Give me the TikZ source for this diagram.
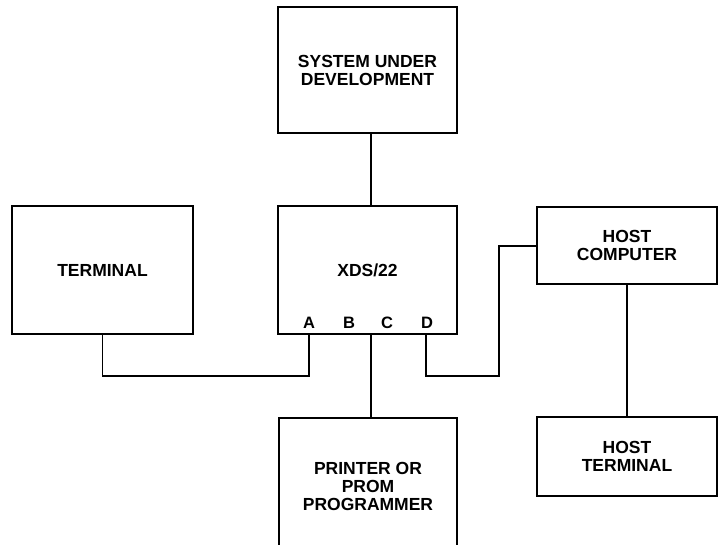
\documentclass[tikz,border=0pt]{standalone}
\usepackage{fontspec}
\setmainfont{Liberation Sans}
\begin{document}
\begin{tikzpicture}[x=1pt,y=-1pt,
  box/.style={draw,line width=2.4pt,inner sep=0pt,align=center,
    font=\fontsize{17.5}{18}\selectfont\bfseries},
  port/.style={inner sep=0pt,anchor=base,font=\fontsize{16.5}{16.5}\selectfont\bfseries},
  wire/.style={line width=1.1pt}]
\useasboundingbox (0,0) rectangle (718,544);
\node[box,minimum width=179pt,minimum height=126pt] (sys) at (367.5,70) {SYSTEM UNDER\\DEVELOPMENT};
\node[box,minimum width=181pt,minimum height=128pt] (term) at (102.5,270) {TERMINAL};
\node[box,minimum width=179pt,minimum height=128pt] (xds) at (367.5,270) {XDS/22};
\node[box,minimum width=180pt,minimum height=77pt] (host) at (627,245.5) {HOST\\COMPUTER};
\node[box,minimum width=180pt,minimum height=79pt] (hterm) at (627,456.5) {HOST\\TERMINAL};
\node[box,minimum width=178pt,minimum height=136pt] (prn) at (368,486) {PRINTER OR\\PROM\\PROGRAMMER};
\node[port] (pA) at (309,328) {A};
\node[port] (pB) at (349,328) {B};
\node[port] (pC) at (387,328) {C};
\node[port] (pD) at (427,328) {D};
\coordinate (cx) at (371,0);
\coordinate (dx) at (426,0);
\coordinate (lowrun) at (0,376);
\coordinate (hx) at (499,246);
\draw[wire] (sys.south -| cx) -- (xds.north -| cx);
\draw[wire] (xds.south -| cx) -- (prn.north -| cx);
\draw[wire] (term.south) -- (term.south |- lowrun) -- (pA |- lowrun) -- (pA |- xds.south);
\draw[wire] (xds.south -| dx) -- (dx |- lowrun) -- (hx |- lowrun) -- (hx) -- (hx -| host.west);
\draw[wire] (host.south) -- (hterm.north);
\end{tikzpicture}
\end{document}
